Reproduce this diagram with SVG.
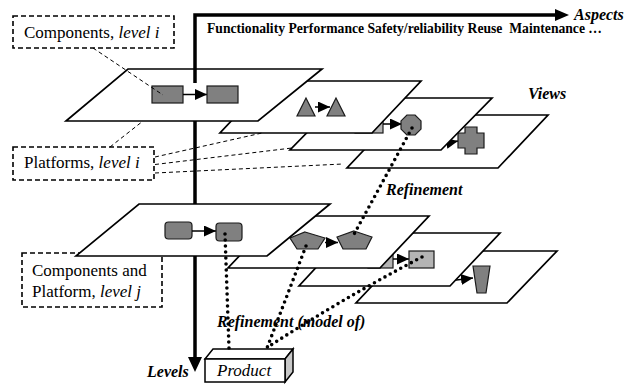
<svg xmlns="http://www.w3.org/2000/svg" width="637" height="385" viewBox="0 0 637 385">
  <style>
    .plane { fill: #fff; stroke: #000; stroke-width: 1.7; stroke-linejoin: miter; }
    .shape { fill: #808080; stroke: #1a1a1a; stroke-width: 1.2; }
    .light { fill: #b4b4b4; stroke: #1a1a1a; stroke-width: 1.2; }
    .flow { fill: none; stroke: #000; stroke-width: 1.5; marker-end: url(#head); }
    .axis { fill: none; stroke: #000; stroke-width: 3.5; }
    .label-box { fill: #fff; stroke: #000; stroke-width: 1.6; stroke-dasharray: 5 3; }
    .lead { fill: none; stroke: #000; stroke-width: 1; stroke-dasharray: 4 3; }
    .dots { fill: none; stroke: #000; stroke-width: 3.6; stroke-linecap: round; stroke-dasharray: 0 6; }
    text { font-family: 'Liberation Serif', 'DejaVu Serif', serif; fill: #000; }
    .lbl { font-size: 17px; }
    .tag { font-size: 16px; font-style: italic; font-weight: bold; }
    .it { font-style: italic; }
  </style>
  <defs>
    <marker id="head" markerUnits="userSpaceOnUse" markerWidth="12" markerHeight="11" refX="12" refY="5.5" orient="auto">
      <path d="M0,0 L12,5.5 L0,11 Z" fill="#000"/>
    </marker>
  </defs>

  <!-- label boxes -->
  <g id="label-components-i">
    <rect class="label-box" x="13" y="16" width="161" height="32"/>
    <text class="lbl" x="24" y="38" font-family="Liberation Serif, serif">Components, <tspan class="it">level i</tspan></text>
  </g>
  <g id="label-platforms-i">
    <rect class="label-box" x="13" y="147" width="141" height="33"/>
    <text class="lbl" x="24" y="168" font-family="Liberation Serif, serif">Platforms, <tspan class="it">level i</tspan></text>
  </g>
  <g id="label-level-j">
    <rect class="label-box" x="22" y="253" width="140" height="54"/>
    <text class="lbl" x="32" y="276" font-family="Liberation Serif, serif">Components and</text>
    <text class="lbl" x="32" y="297" font-family="Liberation Serif, serif">Platform, <tspan class="it">level j</tspan></text>
  </g>

  <!-- axes -->
  <g id="axes">
    <polyline class="axis" points="195,358 195,15 556,15"/>
    <polygon points="555,9 555,21 569,15" fill="#000"/>
    <polygon points="188,357 202,357 195,372" fill="#000"/>
    <text class="tag" x="574" y="20" font-family="Liberation Serif, serif">Aspects</text>
    <text x="207" y="33" font-family="Liberation Serif, serif" font-size="13.6" font-weight="bold" textLength="395" lengthAdjust="spacingAndGlyphs" xml:space="preserve">Functionality Performance Safety/reliability Reuse  Maintenance …</text>
    <text class="tag" x="147" y="377" font-family="Liberation Serif, serif">Levels</text>
  </g>

  <!-- level i: view planes, back to front -->
  <g id="plane-i-4">
    <polygon class="plane" points="347,168 498,168 548,115 397,115"/>
    <line class="flow" x1="425" y1="148" x2="458" y2="141"/>
    <path class="shape" d="M465,127 H477 V133 H484 V148 H477 V154 H465 V148 H458 V133 H465 Z"/>
  </g>
  <g id="plane-i-3">
    <polygon class="plane" points="290,150 441,150 492,98 341,98"/>
    <rect class="light" x="355" y="115" width="28" height="18"/>
    <line class="flow" x1="383" y1="124" x2="402" y2="124"/>
    <polygon class="shape" points="406.9,115 415.1,115 421,120.9 421,129.1 415.1,135 406.9,135 401,129.1 401,120.9"/>
  </g>
  <g id="plane-i-2">
    <polygon class="plane" points="220,133 372,133 421,81 269,81"/>
    <polygon class="shape" points="306,98 297,116 315,116"/>
    <line class="flow" x1="315" y1="107" x2="330" y2="107"/>
    <polygon class="shape" points="336,98 327,116 345,116"/>
  </g>
  <g id="plane-i-1">
    <polygon class="plane" points="128,69 322,69 258,121 66,121"/>
    <rect class="shape" x="152" y="86" width="31" height="17"/>
    <line class="flow" x1="183" y1="94.5" x2="207" y2="94.5"/>
    <rect class="shape" x="207" y="86" width="31" height="17"/>
    <line class="axis" x1="195" y1="69" x2="195" y2="83"/>
  </g>

  <!-- level j: view planes, back to front -->
  <g id="plane-j-4">
    <polygon class="plane" points="356,303 507,303 557,251 405,251"/>
    <line class="flow" x1="440" y1="282" x2="473" y2="278"/>
    <polygon class="shape" points="473,266 490,266 486,293 477,293"/>
  </g>
  <g id="plane-j-3">
    <polygon class="plane" points="299,286 450,286 500,233 348,233"/>
    <rect class="light" x="368" y="250" width="25" height="18"/>
    <line class="flow" x1="393" y1="259" x2="409" y2="259"/>
    <rect class="light" x="409" y="251" width="25" height="17"/>
  </g>
  <g id="plane-j-2">
    <polygon class="plane" points="228,268 380,268 429,216 277,216"/>
    <polygon class="shape" points="305,232 325,238 318,249 297,249 290,238"/>
    <line class="flow" x1="325" y1="242.5" x2="338" y2="242.5"/>
    <polygon class="shape" points="354,231 372,237 366,249 343,249 337,237"/>
  </g>
  <g id="plane-j-1">
    <polygon class="plane" points="139,204 330,204 267,256 76,256"/>
    <rect class="shape" x="165" y="222" width="27" height="17" rx="3.5"/>
    <line class="flow" x1="192" y1="231" x2="216" y2="231"/>
    <rect class="shape" x="216" y="223" width="26" height="18" rx="3.5"/>
  </g>

  <!-- product -->
  <g id="product">
    <polygon points="205,359 213,349 293,349 285,359" fill="#fff" stroke="#000" stroke-width="1.5"/>
    <polygon points="285,359 293,349 293,372 285,382" fill="#c8c8c8" stroke="#000" stroke-width="1.5"/>
    <rect x="205" y="359" width="80" height="23" fill="#fff" stroke="#000" stroke-width="1.5"/>
    <text class="it" x="217" y="376" font-size="17" font-family="Liberation Serif, serif">Product</text>
  </g>

  <!-- connectors: leader lines and refinement links -->
  <g id="connectors">
    <line class="lead" x1="93" y1="48" x2="163" y2="95"/>
    <line class="lead" x1="110" y1="147" x2="143" y2="121"/>
    <line class="lead" x1="155" y1="157" x2="262" y2="133"/>
    <line class="lead" x1="155" y1="164.5" x2="292" y2="148"/>
    <line class="lead" x1="155" y1="173" x2="343" y2="164"/>

    <line class="dots" x1="412" y1="128" x2="352" y2="238"/>
    <line class="dots" x1="306" y1="246" x2="267" y2="348"/>
    <path class="dots" d="M422,257 Q340,300 268,347"/>
    <line class="dots" x1="225" y1="234" x2="229" y2="348"/>

    <text class="tag" x="386" y="195" font-family="Liberation Serif, serif">Refinement</text>
    <text class="tag" x="217" y="327" font-family="Liberation Serif, serif">Refinement (model of)</text>
    <text class="tag" x="528" y="99" font-family="Liberation Serif, serif">Views</text>
  </g>
</svg>
